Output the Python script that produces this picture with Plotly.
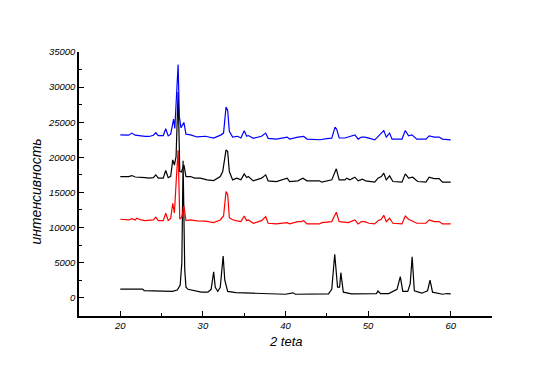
import plotly.graph_objects as go

# ---- data (2 theta, intensity) ----
blue_x = [20.0, 21.0, 21.4, 21.8, 23.0, 23.5, 24.0, 24.3, 24.6, 25.2, 25.5, 25.8, 26.1, 26.3, 26.45,
          26.6, 26.85, 27.0, 27.15, 27.35, 27.7, 27.95, 28.5, 29.3, 30.3, 31.3, 32.2, 32.5, 32.8, 33.0,
          33.2, 33.6, 34.2, 34.6, 35.0, 35.3, 35.5, 36.1, 37.1, 37.6, 37.9, 38.9, 40.2, 40.5, 41.5,
          41.9, 42.2, 42.6, 44.2, 45.0, 45.6, 46.0, 46.2, 46.5, 47.2, 48.4, 48.8, 49.2, 49.6, 50.1,
          50.8, 51.4, 51.9, 52.2, 52.6, 52.9, 54.1, 54.5, 54.9, 55.3, 55.9, 57.0, 57.4, 58.0, 58.6,
          59.0, 60.0]
blue_y = [23200, 23150, 23450, 23150, 22970, 22970, 23150, 23500, 23100, 23100, 24070, 23050, 23300, 24880, 25450,
          24100, 31050, 33200, 25800, 24200, 24970, 23300, 23200, 22900, 23000, 22750, 23200, 23450, 27150, 26700,
          23700, 22880, 23000, 22750, 23780, 23000, 23100, 22700, 23000, 23450, 22700, 22600, 22880, 22600, 22880,
          22880, 22980, 22600, 22500, 22650, 22730, 24300, 24000, 22750, 22750, 23200, 22590, 22880, 22880, 22730,
          22490, 23200, 23820, 22880, 23450, 22590, 22590, 23820, 23060, 23200, 22590, 22590, 23060, 22880, 22880,
          22590, 22490]

mid_x = [20.0, 21.0, 21.4, 21.8, 23.0, 23.5, 24.0, 24.3, 24.6, 25.2, 25.5, 25.8, 26.1, 26.35, 26.55,
         26.75, 27.0, 27.2, 27.4, 27.7, 27.95, 28.5, 29.0, 29.7, 30.5, 31.3, 32.1, 32.4, 32.8, 33.0,
         33.2, 33.6, 34.1, 34.6, 35.0, 35.3, 35.5, 36.1, 37.1, 37.6, 37.9, 38.9, 40.2, 40.5, 41.5,
         42.1, 42.6, 44.1, 44.4, 45.6, 46.15, 46.5, 47.2, 47.4, 47.8, 48.4, 48.8, 49.3, 49.7, 50.8,
         51.2, 51.6, 51.9, 52.2, 52.6, 53.0, 54.1, 54.5, 54.9, 55.4, 56.0, 57.0, 57.4, 58.0, 58.6,
         59.0, 60.0]
mid_y = [17260, 17260, 17400, 17200, 17120, 17030, 17100, 17500, 17030, 17030, 18120, 17100, 17300, 19640, 18900,
         20110, 29300, 18000, 17900, 18930, 17260, 17260, 17030, 17030, 16790, 16690, 17260, 17980, 21070, 20830,
         17980, 16790, 17030, 16790, 17640, 17120, 17260, 16650, 17030, 17500, 16650, 16550, 17030, 16550, 16650,
         17030, 16650, 16650, 16460, 16790, 18360, 16790, 16790, 17030, 16790, 17170, 16650, 16900, 16650, 16460,
         17030, 17260, 17740, 16790, 17360, 16550, 16460, 17640, 17030, 17170, 16550, 16460, 17170, 16970, 16970,
         16460, 16460]

red_x = [20.0, 20.6, 21.0, 21.4, 21.8, 22.0, 22.5, 23.0, 23.5, 24.0, 24.3, 24.6, 25.2, 25.5, 25.8,
         26.1, 26.35, 26.55, 26.8, 27.0, 27.2, 27.45, 27.7, 27.95, 28.5, 29.3, 30.3, 31.3, 32.1, 32.5,
         32.8, 33.0, 33.2, 33.6, 34.0, 34.6, 35.0, 35.3, 35.5, 36.1, 37.1, 37.6, 37.9, 38.9, 40.2,
         40.5, 41.5, 41.9, 42.2, 42.6, 44.1, 44.4, 45.6, 46.15, 46.5, 47.2, 47.6, 48.4, 48.8, 49.2,
         49.6, 50.1, 50.8, 51.2, 51.6, 51.9, 52.2, 52.6, 53.0, 54.1, 54.5, 54.9, 55.3, 55.9, 57.0,
         57.4, 58.0, 58.6, 59.0, 60.0]
red_y = [11180, 11180, 11080, 11250, 11080, 11320, 11080, 10980, 10980, 11080, 11470, 10980, 10980, 12040, 11000,
         11300, 13460, 12080, 17260, 21000, 11200, 11500, 13080, 11000, 11080, 10940, 10900, 10700, 11080, 11650,
         15120, 14700, 11400, 11100, 10980, 10840, 11650, 10980, 11080, 10610, 10980, 11550, 10610, 10510, 10700,
         10510, 10840, 10840, 10980, 10510, 10510, 10700, 10840, 12180, 10840, 10700, 10700, 11080, 10510, 10840,
         10840, 10610, 10510, 10980, 11180, 11750, 10840, 11320, 10610, 10510, 11650, 11180, 10980, 10610, 10610,
         11080, 10840, 10840, 10510, 10510]

bot_x = [20.0, 22.7, 22.9, 24.5, 25.5, 26.3, 26.9, 27.25, 27.45, 27.6, 27.8, 27.95, 28.2, 29.0, 29.8,
         30.6, 31.0, 31.3, 31.5, 31.8, 32.1, 32.45, 32.65, 33.0, 34.0, 36.0, 40.0, 40.9, 41.2, 45.2,
         45.6, 45.96, 46.3, 46.55, 46.7, 47.0, 48.0, 51.0, 51.2, 51.5, 52.5, 53.5, 53.9, 54.2, 54.8,
         55.1, 55.33, 55.6, 56.5, 57.2, 57.5, 57.8, 58.5, 59.0, 59.6, 60.0]
bot_y = [1240, 1240, 1000, 950, 1000, 900, 1100, 1800, 5000, 19500, 4000, 1500, 1200, 950, 800,
         800, 1200, 3700, 1500, 900, 1500, 5950, 2500, 900, 720, 650, 500, 700, 500, 550,
         1200, 6200, 1500, 1500, 3570, 800, 550, 580, 950, 580, 600, 1200, 3000, 900, 900,
         2000, 5850, 1000, 650, 1000, 2500, 800, 580, 500, 600, 550]

x_ticks = [20, 30, 40, 50, 60]
y_ticks = [0, 5000, 10000, 15000, 20000, 25000, 30000, 35000]
x_title = "2 teta"
y_title = "интенсивность"

FONT = "Arial, Liberation Sans, sans-serif"

fig = go.Figure()
for xs, ys, col in [(bot_x, bot_y, "black"), (red_x, red_y, "red"),
                    (mid_x, mid_y, "black"), (blue_x, blue_y, "blue")]:
    fig.add_trace(go.Scatter(x=xs, y=ys, mode="lines", line=dict(color=col, width=1.2),
                             showlegend=False, hoverinfo="skip"))

fig.update_layout(
    width=534, height=365,
    margin=dict(l=71, r=50, t=44, b=57),
    paper_bgcolor="white", plot_bgcolor="white",
    font=dict(family=FONT, color="black"),
    showlegend=False,
)
fig.update_xaxes(
    range=[15, 65], tickvals=x_ticks, ticktext=[f"<i>{v}</i>" for v in x_ticks],
    ticks="inside", ticklen=5, tickwidth=1, tickcolor="black",
    minor=dict(dtick=5, tick0=15, ticks="inside", ticklen=3, tickcolor="black"),
    showline=True, linecolor="black", linewidth=1.5, showgrid=False, zeroline=False,
    tickfont=dict(size=9.5, family=FONT),
)
fig.update_yaxes(
    range=[-2600, 35000], tickvals=y_ticks, ticktext=[f"<i>{v}</i>" for v in y_ticks],
    ticks="inside", ticklen=5, tickwidth=1, tickcolor="black",
    minor=dict(dtick=2500, tick0=0, ticks="inside", ticklen=3, tickcolor="black"),
    showline=True, linecolor="black", linewidth=1.5, showgrid=False, zeroline=False,
    tickfont=dict(size=9.5, family=FONT),
)
fig.add_annotation(text=f"<i>{x_title}</i>", xref="paper", yref="paper", x=0.5, y=-0.098,
                   yanchor="middle", showarrow=False, font=dict(size=13, family=FONT))
fig.add_annotation(text=f"<i>{y_title}</i>", xref="paper", yref="paper", x=-0.105, y=0.47,
                   xanchor="center", yanchor="middle", textangle=-90, showarrow=False,
                   font=dict(size=14, family=FONT))

fig.write_html("out.html")
